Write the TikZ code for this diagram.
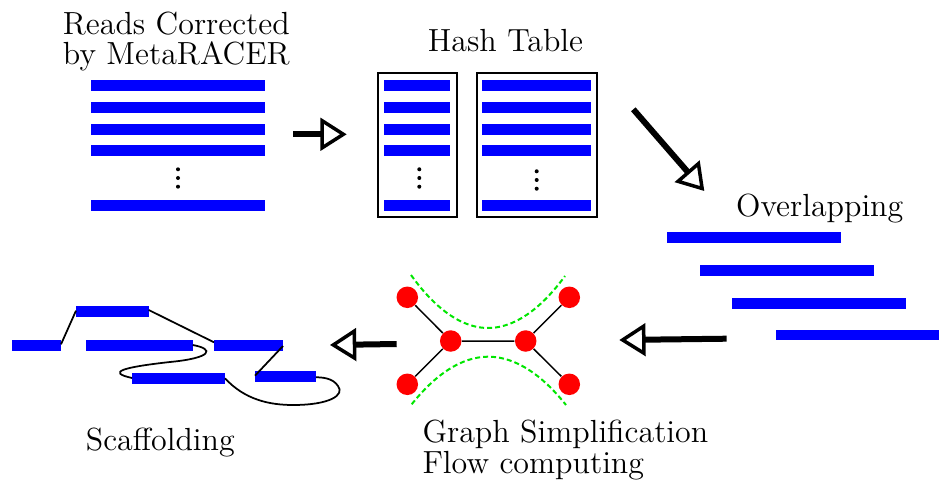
\documentclass[tikz,border=0pt]{standalone}
\usepackage{fontspec}
\usepackage{tikz}
\usetikzlibrary{arrows.meta, positioning}
\definecolor{readblue}{RGB}{0,0,255}
\definecolor{nodered}{RGB}{255,0,0}
\definecolor{flowgreen}{RGB}{0,230,0}

\tikzset{
    readbar/.style={readblue, line width=4.3pt},
    stagearrow/.style={line width=2.4pt, -{Triangle[open, length=10.5pt, width=13pt, line width=1.4pt]}},
    vertex/.style={circle, fill=nodered, inner sep=0pt, minimum size=8.6pt},
    label/.style={font=\fontsize{12.8}{12.3}\selectfont, inner sep=0pt}
}

\begin{document}
\begin{tikzpicture}[x=0.4pt, y=-0.4pt]
    % Fix the picture size
    \useasboundingbox (0,0) rectangle (939,485);

    % Reads corrected by MetaRACER
    \node[label, align=center, anchor=base] (readstitle) at (176.3,65) {Reads Corrected\\by MetaRACER};
    \foreach \y in {85.3, 107.5, 129.3, 150.3, 205.3} {
        \draw[readbar] (91,\y) -- (265,\y);
    }
    \foreach \y in {169.3, 178, 186.7} {
        \fill (178,\y) circle (2);
    }

    % Hash table with its two columns
    \node[label, anchor=base] (hashtitle) at (505.5,51.7) {Hash Table};
    \draw[line width=0.8pt] (377.7,73.3) rectangle (456.7,217.3);
    \draw[line width=0.8pt] (476.7,73.3) rectangle (597.3,217.3);
    \foreach \y in {85.3, 107.5, 129.3, 150.3, 205.3} {
        \draw[readbar] (384,\y) -- (450,\y);
        \draw[readbar] (482,\y) -- (591,\y);
    }
    \foreach \y in {169.3, 178, 186.7} {
        \fill (419.3,\y) circle (2);
        \fill (536.7,\y+2) circle (2);
    }

    % Overlapping reads
    \node[label, anchor=base] (overlaptitle) at (819.7,216.7) {Overlapping};
    \draw[readbar] (667,237.3) -- (841,237.3);
    \draw[readbar] (700,270.3) -- (874,270.3);
    \draw[readbar] (732,303.3) -- (906,303.3);
    \draw[readbar] (776,335) -- (950,335);

    % Graph simplification
    \node[vertex] (gTL) at (407.3,297.3) {};
    \node[vertex] (gBL) at (407.3,384.3) {};
    \node[vertex] (gL) at (450.7,341) {};
    \node[vertex] (gR) at (525.7,341) {};
    \node[vertex] (gTR) at (569.3,297.3) {};
    \node[vertex] (gBR) at (569.3,384.3) {};
    \draw[line width=0.6pt] (gTL) -- (gL) -- (gR) -- (gTR);
    \draw[line width=0.6pt] (gBL) -- (gL);
    \draw[line width=0.6pt] (gR) -- (gBR);
    \draw[flowgreen, line width=0.8pt, dash pattern=on 2pt off 1.2pt] (411,275) parabola bend (488,328) (565,276);
    \draw[flowgreen, line width=0.8pt, dash pattern=on 2pt off 1.2pt] (411.7,404.3) parabola bend (488.3,356.7) (566,405);
    \node[label, align=left, anchor=base west] (graphtitle) at (422,473.3) {Graph Simplification\\Flow computing};

    % Scaffolding
    \draw[readbar] (12,345.5) -- (61,345.5);
    \draw[readbar] (76,311.3) -- (148.7,311.3);
    \draw[readbar] (86,345.5) -- (192.7,345.5);
    \draw[readbar] (214,345.5) -- (283,345.5);
    \draw[readbar] (132,378.3) -- (225,378.3);
    \draw[readbar] (255,376.3) -- (316,376.3);
    \draw[line width=0.7pt] (61,344.3) -- (76,310.7);
    \draw[line width=0.7pt] (148.7,310) -- (214,342.3);
    \draw[line width=0.7pt] (283,346) -- (255,375.7);
    \draw[line width=0.7pt] (192.7,345) .. controls (215,349) and (212,358) .. (170,362)
        .. controls (125,367) and (105,372) .. (132,378);
    \draw[line width=0.7pt] (225,378.3) .. controls (245,400) and (270,405) .. (293,405)
        .. controls (330,405) and (345,395) .. (338,386) .. controls (333,378) and (322,377.3) .. (316,377.3);
    \node[label, anchor=base] (scaffoldtitle) at (160.3,450.7) {Scaffolding};

    % Arrows between the stages
    \coordinate (a1s) at (293,134.3);
    \coordinate (a1e) at (346.7,134.3);
    \coordinate (a2s) at (633.3,109.3);
    \coordinate (a2e) at (704.3,191);
    \coordinate (a3s) at (726.7,338.7);
    \coordinate (a3e) at (619.3,340);
    \coordinate (a4s) at (396.7,344);
    \coordinate (a4e) at (330,345);
    \draw[stagearrow] (a1s) -- (a1e);
    \draw[stagearrow] (a2s) -- (a2e);
    \draw[stagearrow] (a3s) -- (a3e);
    \draw[stagearrow] (a4s) -- (a4e);
\end{tikzpicture}
\end{document}
